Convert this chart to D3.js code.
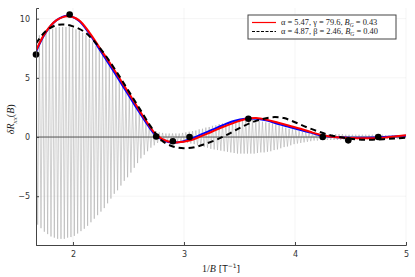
<!DOCTYPE html>
<html>
<head>
<meta charset="utf-8">
<script src="https://cdn.jsdelivr.net/npm/d3@7"></script>
<style>
  body { margin: 0; background: #fff; }
  .tick text { font-family: "DejaVu Sans", sans-serif; font-size: 8px; fill: #333; }
</style>
</head>
<body>
<div id="chart"></div>
<script>
// gray trace: extrema, one max + one min per cycle
var grayStart = 1.667;
var grayStep = 0.03;
var grayHigh = [8.3,8.6,8.75,8.95,9.05,9.15,9.25,9.3,9.3,9.3,
  9.3,9.2,9.1,9.0,8.8,8.6,8.3,8.0,7.7,7.4,
  7.1,6.6,6.2,5.7,5.2,4.8,4.3,3.9,3.4,2.9,
  2.5,2.0,1.7,1.3,1.0,0.75,0.5,0.4,0.35,0.3,
  0.3,0.3,0.3,0.3,0.35,0.4,0.45,0.5,0.55,0.65,
  0.7,0.8,0.85,0.95,1.0,1.1,1.15,1.2,1.25,1.3,
  1.35,1.4,1.4,1.45,1.45,1.45,1.4,1.35,1.3,1.25,
  1.2,1.15,1.05,1.0,0.9,0.8,0.7,0.65,0.6,0.5,
  0.45,0.4,0.35,0.3,0.3,0.3,0.25,0.25,0.25,0.25,
  0.25,0.25,0.25,0.2,0.2,0.2,0.2,0.2,0.2,0.2,
  0.2,0.2,0.2,0.2,0.2,0.15,0.15,0.15,0.15,0.15,
  0.15];
var grayLow = [-7.4,-7.7,-8.0,-8.2,-8.4,-8.5,-8.6,-8.6,-8.6,-8.5,
  -8.45,-8.35,-8.15,-7.95,-7.75,-7.5,-7.2,-6.9,-6.6,-6.3,
  -6.0,-5.6,-5.2,-4.8,-4.5,-4.1,-3.7,-3.4,-3.0,-2.6,
  -2.2,-1.8,-1.5,-1.2,-0.9,-0.7,-0.5,-0.4,-0.35,-0.3,
  -0.3,-0.3,-0.35,-0.4,-0.45,-0.5,-0.55,-0.6,-0.7,-0.75,
  -0.85,-0.9,-1.0,-1.05,-1.1,-1.15,-1.2,-1.25,-1.3,-1.35,
  -1.4,-1.4,-1.4,-1.4,-1.4,-1.4,-1.35,-1.3,-1.3,-1.25,
  -1.2,-1.1,-1.05,-0.95,-0.85,-0.8,-0.7,-0.6,-0.55,-0.5,
  -0.45,-0.4,-0.35,-0.3,-0.3,-0.25,-0.25,-0.25,-0.25,-0.25,
  -0.25,-0.25,-0.25,-0.2,-0.2,-0.2,-0.2,-0.2,-0.2,-0.2,
  -0.2,-0.2,-0.2,-0.2,-0.2,-0.15,-0.15,-0.15,-0.15,-0.15,
  -0.15];

// fitted curves
var fitX = [1.667,1.75,1.85,1.95,2.05,2.15,2.25,2.35,2.45,2.55,2.65,2.75,2.85,2.95,3.05,3.15,
  3.25,3.35,3.45,3.55,3.65,3.75,3.85,3.95,4.05,4.15,4.25,4.35,4.5,4.65,4.8,5.0];
var redY = [7.3,8.8,9.85,10.2,9.9,8.8,7.4,6.0,4.5,3.0,1.5,0.2,-0.35,-0.45,-0.3,0.05,
  0.45,0.85,1.2,1.5,1.6,1.45,1.2,0.95,0.7,0.4,0.15,0.0,-0.08,-0.1,-0.05,0.15];
var blueY = [7.2,8.75,9.85,10.25,9.85,8.7,7.25,5.8,4.3,2.8,1.35,0.1,-0.4,-0.45,-0.2,0.2,
  0.6,1.0,1.35,1.55,1.55,1.4,1.1,0.85,0.6,0.35,0.1,0.0,-0.05,-0.05,0.0,0.1];
var dashX = [1.667,1.75,1.85,1.93,2.0,2.1,2.2,2.3,2.4,2.5,2.6,2.7,2.8,2.9,3.0,3.1,3.2,3.3,
  3.4,3.5,3.6,3.7,3.8,3.9,4.0,4.1,4.2,4.3,4.4,4.5,4.6,4.7,4.8,4.9,5.0];
var dashY = [7.9,8.9,9.45,9.5,9.35,8.9,8.0,6.8,5.4,3.9,2.4,0.9,-0.3,-0.8,-0.95,-0.85,-0.55,-0.2,
  0.25,0.75,1.2,1.5,1.68,1.6,1.25,0.85,0.5,0.2,0.0,-0.15,-0.22,-0.22,-0.18,-0.12,-0.05];

// black markers
var dotX = [1.667,1.97,2.75,2.9,3.05,3.58,4.25,4.48,4.75];
var dotY = [6.97,10.35,0.05,-0.36,0.0,1.55,0.0,-0.28,0.0];

var xTicks = [2,3,4,5];
var yTicks = [-5,0,5,10];

var margin = {top: 8, right: 9, bottom: 32, left: 36};
var width = 415 - margin.left - margin.right;
var height = 277 - margin.top - margin.bottom;

var x = d3.scaleLinear().domain([1.667, 5]).range([0, width]);
var y = d3.scaleLinear().domain([-9.12, 10.9]).range([height, 0]);

var svg = d3.select("#chart").append("svg")
  .attr("width", width + margin.left + margin.right)
  .attr("height", height + margin.top + margin.bottom)
  .append("g")
  .attr("transform", "translate(" + margin.left + "," + margin.top + ")");

svg.append("clipPath").attr("id", "clip")
  .append("rect").attr("width", width).attr("height", height);

// grid
svg.append("g").selectAll("line").data(xTicks).enter().append("line")
  .attr("x1", d => x(d)).attr("x2", d => x(d))
  .attr("y1", 0).attr("y2", height)
  .attr("stroke", "#000").attr("stroke-opacity", 0.08).attr("stroke-width", 0.6);
svg.append("g").selectAll("line").data(yTicks).enter().append("line")
  .attr("y1", d => y(d)).attr("y2", d => y(d))
  .attr("x1", 0).attr("x2", width)
  .attr("stroke", "#000").attr("stroke-opacity", 0.08).attr("stroke-width", 0.6);

var plot = svg.append("g").attr("clip-path", "url(#clip)");

// gray oscillations
var grayPts = [];
grayHigh.forEach(function(v, i) {
  grayPts.push([grayStart + i * grayStep, v]);
  grayPts.push([grayStart + i * grayStep + grayStep / 2, grayLow[i]]);
});
var line = d3.line().x(d => x(d[0])).y(d => y(d[1]));
plot.append("path")
  .attr("d", line(grayPts))
  .attr("fill", "none")
  .attr("stroke", "#a8a8a8")
  .attr("stroke-width", 0.55);

// zero line
plot.append("line")
  .attr("x1", 0).attr("x2", width)
  .attr("y1", y(0)).attr("y2", y(0))
  .attr("stroke", "#555").attr("stroke-width", 1);

var smooth = d3.line().curve(d3.curveCatmullRom).x(d => x(d[0])).y(d => y(d[1]));

plot.append("path")
  .attr("d", smooth(fitX.map((v, i) => [v, blueY[i]])))
  .attr("fill", "none").attr("stroke", "#0000ff").attr("stroke-width", 2);

plot.append("path")
  .attr("d", smooth(fitX.map((v, i) => [v, redY[i]])))
  .attr("fill", "none").attr("stroke", "#ff0000").attr("stroke-width", 2);

plot.append("path")
  .attr("d", smooth(dashX.map((v, i) => [v, dashY[i]])))
  .attr("fill", "none").attr("stroke", "#000").attr("stroke-width", 2)
  .attr("stroke-dasharray", "6,4");

svg.append("g").selectAll("circle")
  .data(dotX.map((v, i) => [v, dotY[i]]))
  .enter().append("circle")
  .attr("cx", d => x(d[0])).attr("cy", d => y(d[1]))
  .attr("r", 3.3).attr("fill", "#000");

// axes
var xAxis = d3.axisBottom(x).tickValues(xTicks).tickSize(-3).tickPadding(6)
  .tickFormat(d3.format("d"));
var yAxis = d3.axisLeft(y).tickValues(yTicks).tickSize(-3).tickPadding(6)
  .tickFormat(d => d < 0 ? "\u2212" + Math.abs(d) : d);

svg.append("g")
  .attr("transform", "translate(0," + height + ")")
  .call(xAxis)
  .call(g => g.select(".domain").attr("stroke", "#444"))
  .call(g => g.selectAll(".tick line").attr("stroke", "#444"));

svg.append("g")
  .call(yAxis)
  .call(g => g.select(".domain").attr("stroke", "#444"))
  .call(g => g.selectAll(".tick line").attr("stroke", "#444"));

// axis labels
var xl = svg.append("text")
  .attr("x", width / 2)
  .attr("y", height + 27)
  .style("text-anchor", "middle")
  .style("font-size", "10px")
  .style("fill", "#222");
xl.append("tspan").style("font-family", "Liberation Serif, serif").text("1/");
xl.append("tspan").style("font-family", "Liberation Serif, serif").style("font-style", "italic").text("B");
xl.append("tspan").style("font-family", "DejaVu Sans, sans-serif").style("font-size", "9px").text(" [T");
xl.append("tspan").style("font-family", "DejaVu Sans, sans-serif").style("font-size", "6px").attr("dy", "-4").text("\u22121");
xl.append("tspan").style("font-family", "DejaVu Sans, sans-serif").style("font-size", "9px").attr("dy", "4").text("]");

var yl = svg.append("text")
  .attr("transform", "rotate(-90)")
  .attr("x", -(y(1.5)))
  .attr("y", -margin.left + 14)
  .style("text-anchor", "middle")
  .style("font-family", "Liberation Serif, serif")
  .style("font-style", "italic")
  .style("font-size", "10px")
  .style("fill", "#222");
yl.append("tspan").text("\u03b4R");
yl.append("tspan").attr("dy", "2.5").style("font-size", "7px").text("xx");
yl.append("tspan").attr("dy", "-2.5").style("font-style", "normal").text("(");
yl.append("tspan").text("B");
yl.append("tspan").style("font-style", "normal").text(")");

// legend
var legend = svg.append("g").attr("transform", "translate(212,7)");
legend.append("rect")
  .attr("width", 148).attr("height", 24)
  .attr("fill", "#fff").attr("stroke", "#444").attr("stroke-width", 1);

var legendItems = [
  {color: "#ff0000", dash: null, parts: ["\u03b1 = 5.47, \u03b3 = 79.6, ", "= 0.43"]},
  {color: "#000", dash: "3,1.5", parts: ["\u03b1 = 4.87, \u03b2 = 2.46, ", "= 0.40"]}
];
legendItems.forEach(function(d, i) {
  var ly = 7.5 + i * 9;
  legend.append("line")
    .attr("x1", 4).attr("x2", 28).attr("y1", ly).attr("y2", ly)
    .attr("stroke", d.color).attr("stroke-width", 1.2)
    .attr("stroke-dasharray", d.dash);
  var t = legend.append("text")
    .attr("x", 33).attr("y", ly + 2.8)
    .style("font-family", "Liberation Serif, serif")
    .style("font-size", "8.4px")
    .style("fill", "#222");
  t.append("tspan").text(d.parts[0]);
  t.append("tspan").style("font-style", "italic").text("B");
  t.append("tspan").attr("dy", 1.5).style("font-size", "5.5px").style("font-style", "italic").text("G");
  t.append("tspan").attr("dy", -1.5).text(" " + d.parts[1]);
});
</script>
</body>
</html>
